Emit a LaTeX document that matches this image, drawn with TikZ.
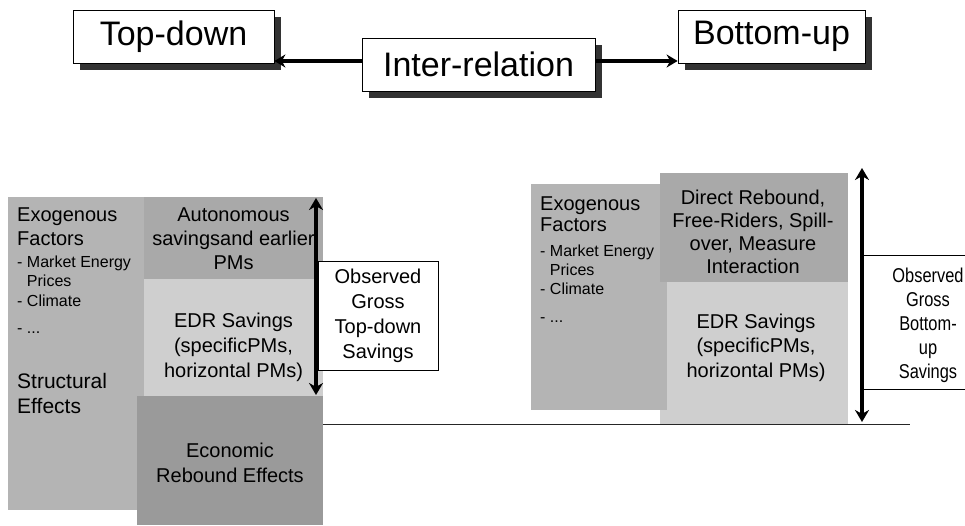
\documentclass[tikz,border=0pt]{standalone}
\usepackage{fontspec}
\setmainfont{Liberation Sans}
\newfontfamily\narrowfont[FakeStretch=0.82]{Liberation Sans}
\usetikzlibrary{arrows.meta,shadows}

\definecolor{exogray}{HTML}{B4B4B4}
\definecolor{autogray}{HTML}{A9A9A9}
\definecolor{edrgray}{HTML}{CFCFCF}
\definecolor{rebgray}{HTML}{9A9A9A}
\definecolor{shadowgray}{HTML}{333333}

\tikzset{
  headbox/.style={draw=black, line width=0.8pt, fill=white, inner sep=0pt,
    minimum height=53pt, font=\fontsize{34}{40}\selectfont,
    drop shadow={shadow xshift=7pt, shadow yshift=-7pt, fill=shadowgray, opacity=1}},
  headarrow/.style={line width=4pt, -{Stealth[length=11pt,width=13pt]}},
  spanarrow/.style={line width=3.5pt, {Stealth[length=12pt,width=14pt]}-{Stealth[length=12pt,width=14pt]}},
  blocktext/.style={inner sep=0pt, font=\fontsize{20}{24}\selectfont},
  listtext/.style={inner sep=0pt, align=left, font=\fontsize{16}{19}\selectfont},
  grossbox/.style={draw=black, line width=0.7pt, fill=white, inner sep=0pt, align=center,
    font=\fontsize{20}{25}\selectfont},
}

\begin{document}
\begin{tikzpicture}[x=1pt, y=-1pt]
\fill[white] (0,0) rectangle (965,526);
\useasboundingbox (0,0) rectangle (965,526);

% approaches, top row
\node[headbox, minimum width=201pt] (td) at (173.5,36.5) {Top-down};
\node[headbox, minimum width=233pt] (inter) at (478.5,64.5) {Inter-relation};
\node[headbox, minimum width=187pt] (bu) at (771.5,36.5) {Bottom-up};
\coordinate (arrowrow) at (0,61);
\draw[headarrow] (inter.west |- arrowrow) -- (td.east |- arrowrow);
\draw[headarrow] (inter.east |- arrowrow) -- (bu.west |- arrowrow);

% top-down side: stacked blocks
\fill[exogray] (8,197) rectangle (144,510);
\fill[autogray] (144,197) rectangle (323,279);
\fill[edrgray] (144,279) rectangle (323,396);
\fill[rebgray] (137,396) rectangle (323,525);

\node[blocktext, anchor=north west, align=left] (exoL) at (17,208) {Exogenous\\Factors};
\node[listtext, anchor=north west] (listL) at (17,255.5)
  {- Market Energy\\\phantom{-\ }Prices\\[1pt]- Climate\\[8pt]- ...};
\node[blocktext, anchor=north west, align=left, font=\fontsize{21}{25}\selectfont] (structL) at (17,373)
  {Structural\\Effects};
\node[blocktext, anchor=north, align=center] (autoL) at (233.5,208)
  {Autonomous\\savingsand earlier\\PMs};
\node[blocktext, anchor=north, align=center, font=\fontsize{20}{25}\selectfont] (edrL) at (233.5,313)
  {EDR Savings\\(specificPMs,\\horizontal PMs)};
\node[blocktext, anchor=north, align=center, font=\fontsize{20}{25}\selectfont] (rebL) at (230,443)
  {Economic\\Rebound Effects};

\node[grossbox, minimum width=120pt, minimum height=109pt] (grossL) at (378,315.5)
  {Observed\\Gross\\Top-down\\Savings};
\coordinate (tdtop) at (316,198);
\coordinate (tdbot) at (316,395);
\draw[spanarrow] (tdbot) -- (tdtop);

% common base line
\coordinate (baseL) at (323,424);
\coordinate (baseR) at (910,424);
\draw[line width=0.9pt, black!85] (baseL) -- (baseR);

% bottom-up side
\fill[edrgray] (660,282) rectangle (848,423.5);
\fill[exogray] (531,184) rectangle (667,410);
\fill[autogray] (660,173) rectangle (848,282);

\node[blocktext, anchor=north west, align=left, font=\fontsize{20}{21}\selectfont] (exoR) at (540,197)
  {Exogenous\\Factors};
\node[listtext, anchor=north west] (listR) at (540,244.5)
  {- Market Energy\\\phantom{-\ }Prices\\- Climate\\[9pt]- ...};
\node[blocktext, anchor=north, align=center, font=\fontsize{20}{23}\selectfont] (dirR) at (753,189.5)
  {Direct Rebound,\\Free-Riders, Spill-\\over, Measure\\Interaction};
\node[blocktext, anchor=north, align=center, font=\fontsize{20}{24.5}\selectfont] (edrR) at (756,313.5)
  {EDR Savings\\(specificPMs,\\horizontal PMs)};

\draw[line width=0.7pt] (862,255) -- (966,255);
\draw[line width=0.7pt] (862,389) -- (966,389);
\node[blocktext, anchor=north, align=center, font=\narrowfont\fontsize{20}{24}\selectfont] (grossR) at (928,267.5)
  {Observed\\Gross\\Bottom-\\up\\Savings};
\coordinate (butop) at (862,168);
\coordinate (bubot) at (862,422);
\draw[spanarrow] (bubot) -- (butop);
\end{tikzpicture}
\end{document}
